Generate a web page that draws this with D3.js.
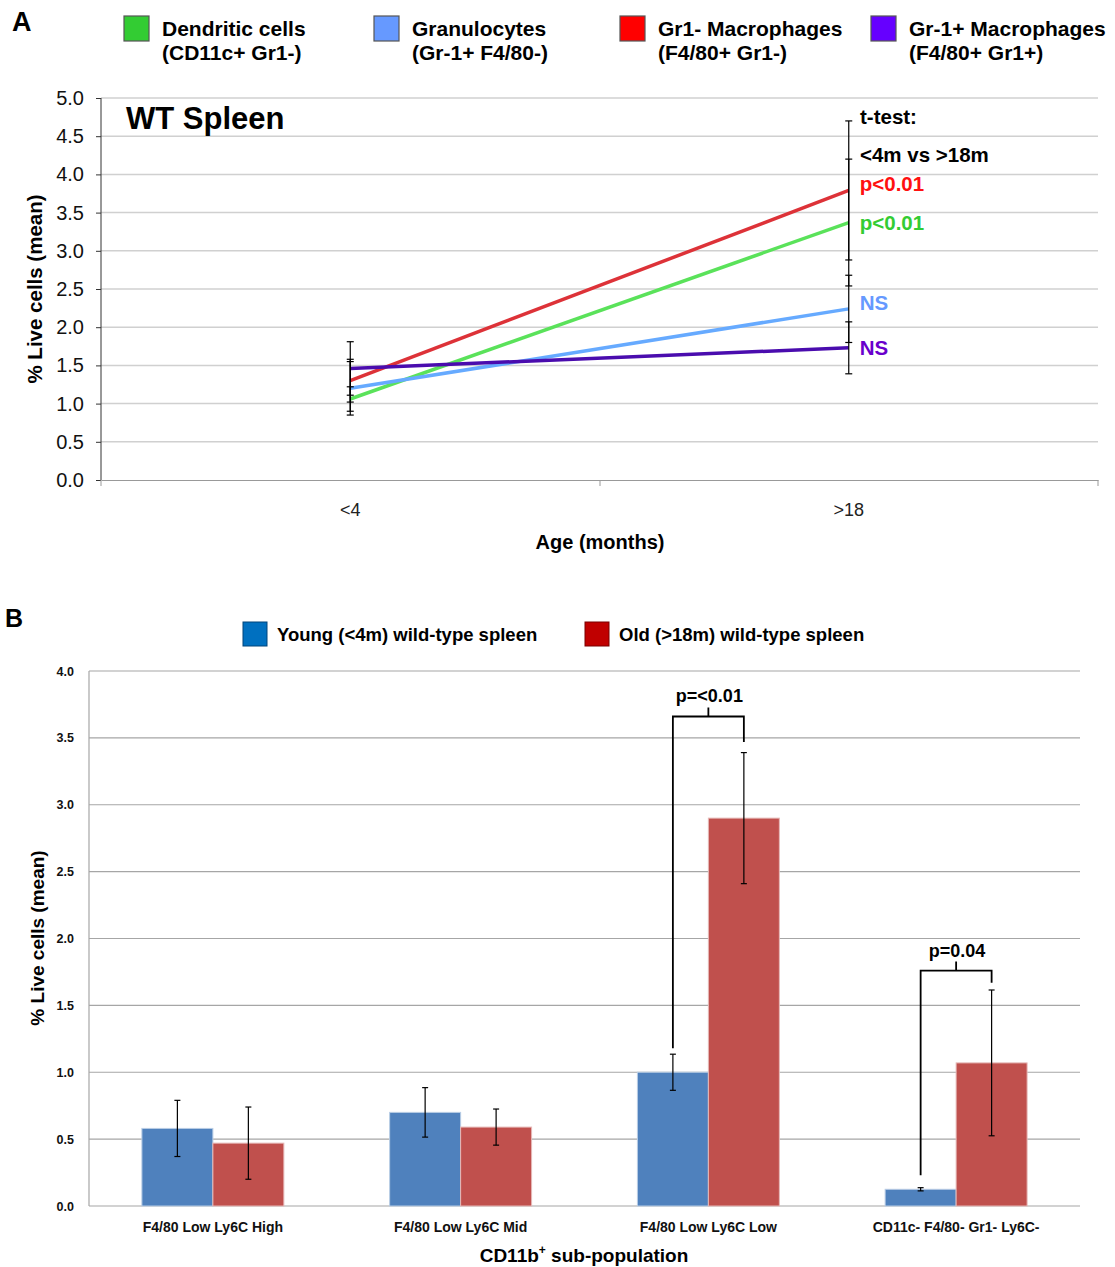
<!DOCTYPE html>
<html><head><meta charset="utf-8">
<script src="https://cdn.jsdelivr.net/npm/d3@7"></script>
<style>body{margin:0;background:#fff} text{font-family:"Liberation Sans",Arial,sans-serif}</style>
</head><body><svg id="c" width="1115" height="1267"></svg>
<script>
// ---------- Panel A data ----------
const ageCategories = ["<4", ">18"];
const seriesNames = ["Dendritic cells", "Granulocytes", "Gr1- Macrophages", "Gr-1+ Macrophages"];
const seriesSubNames = ["(CD11c+ Gr1-)", "(Gr-1+ F4/80-)", "(F4/80+ Gr1-)", "(F4/80+ Gr1+)"];
const dcMean = [1.06, 3.37];
const dcErr = [0.16, 0.83];
const granMean = [1.20, 2.24];
const granErr = [0.35, 0.44];
const macNegMean = [1.30, 3.79];
const macNegErr = [0.28, 0.91];
const macPosMean = [1.46, 1.73];
const macPosErr = [0.35, 0.34];
const pValueLabels = ["p<0.01", "NS", "p<0.01", "NS"];
const yTicksA = [0, 0.5, 1, 1.5, 2, 2.5, 3, 3.5, 4, 4.5, 5];

// ---------- Panel B data ----------
const subPopulations = ["F4/80 Low Ly6C High", "F4/80 Low Ly6C Mid", "F4/80 Low Ly6C Low", "CD11c- F4/80- Gr1- Ly6C-"];
const groupNames = ["Young (<4m) wild-type spleen", "Old (>18m) wild-type spleen"];
const youngMean = [0.58, 0.70, 1.00, 0.125];
const youngErr = [0.21, 0.185, 0.135, 0.012];
const oldMean = [0.47, 0.59, 2.90, 1.07];
const oldErr = [0.27, 0.135, 0.49, 0.545];
const yTicksB = [0, 0.5, 1, 1.5, 2, 2.5, 3, 3.5, 4];
const sigCategoryIndex = [2, 3];
const sigLabels = ["p=<0.01", "p=0.04"];
const bracketLeftBottom = [1.18, 0.23];
const bracketTop = [3.66, 1.76];
const bracketRightBottom = [3.47, 1.67];

const svg = d3.select("#c");
const FONT = '"Liberation Sans",Arial,sans-serif';

// =================== PANEL A ===================
const seriesA = [
  {name: seriesNames[0], sub: seriesSubNames[0], mean: dcMean, err: dcErr, line: "#5ae25a", sw: "#33cc33", txt: "#33cc33", p: pValueLabels[0], dy: 0},
  {name: seriesNames[1], sub: seriesSubNames[1], mean: granMean, err: granErr, line: "#66aaff", sw: "#6699ff", txt: "#6699ff", p: pValueLabels[1], dy: -6},
  {name: seriesNames[2], sub: seriesSubNames[2], mean: macNegMean, err: macNegErr, line: "#dd3238", sw: "#ff0000", txt: "#ff1010", p: pValueLabels[2], dy: -6},
  {name: seriesNames[3], sub: seriesSubNames[3], mean: macPosMean, err: macPosErr, line: "#4a0cae", sw: "#6600ff", txt: "#6a00cc", p: pValueLabels[3], dy: 0}
];

const xA = d3.scaleBand().domain(ageCategories).range([101, 1098]);
const yA = d3.scaleLinear().domain([0, 5]).range([480, 98]);
const gA = svg.append("g");

// gridlines
gA.append("g").selectAll("line").data(yTicksA.slice(1)).join("line")
  .attr("x1", 101).attr("x2", 1098)
  .attr("y1", d => yA(d)).attr("y2", d => yA(d))
  .attr("stroke", "#d0d0d0").attr("stroke-width", 1.5);

// y axis
const yAxisA = gA.append("g").attr("transform", "translate(101,0)")
  .call(d3.axisLeft(yA).tickValues(yTicksA).tickFormat(d3.format(".1f")).tickSize(5).tickPadding(12));
yAxisA.select(".domain").attr("stroke", "#333").attr("d", "M0,480V98");
yAxisA.selectAll(".tick line").attr("stroke", "#333");
yAxisA.selectAll("text").attr("font-family", FONT).attr("font-size", 20).attr("fill", "#111");

// x axis
const xAxisA = gA.append("g").attr("transform", "translate(0,480)")
  .call(d3.axisBottom(xA).tickSize(0).tickPadding(23));
xAxisA.select(".domain").attr("stroke", "#999");
xAxisA.selectAll("text").attr("font-family", FONT).attr("font-size", 18).attr("fill", "#222");
gA.append("g").selectAll("line").data([101, 600, 1098]).join("line")
  .attr("x1", d => d).attr("x2", d => d).attr("y1", 480).attr("y2", 486)
  .attr("stroke", "#999");

// lines
const lineA = d3.line().x((d, i) => xA(ageCategories[i]) + xA.bandwidth() / 2).y(d => yA(d));
seriesA.forEach(s => {
  gA.append("path").datum(s.mean).attr("d", lineA)
    .attr("fill", "none").attr("stroke", s.line).attr("stroke-width", 3.5);
});
// error bars
seriesA.forEach(s => {
  s.mean.forEach((m, i) => {
    const cx = xA(ageCategories[i]) + xA.bandwidth() / 2;
    const lo = yA(m - s.err[i]), hi = yA(m + s.err[i]);
    gA.append("line").attr("x1", cx).attr("x2", cx).attr("y1", lo).attr("y2", hi).attr("stroke", "#000").attr("stroke-width", 1.2);
    [lo, hi].forEach(yy => gA.append("line").attr("x1", cx - 3.5).attr("x2", cx + 3.5).attr("y1", yy).attr("y2", yy).attr("stroke", "#000").attr("stroke-width", 1.2));
  });
});
// p-value labels
seriesA.forEach(s => {
  const last = s.mean.length - 1;
  gA.append("text").attr("x", xA(ageCategories[last]) + xA.bandwidth() / 2 + 11)
    .attr("y", yA(s.mean[last]) + s.dy + 7)
    .attr("font-size", 20.5).attr("font-weight", "bold").attr("fill", s.txt).text(s.p);
});
gA.append("text").attr("x", 860).attr("y", 124).attr("font-size", 20.5).attr("font-weight", "bold").text("t-test:");
gA.append("text").attr("x", 860).attr("y", 162).attr("font-size", 20.5).attr("font-weight", "bold").text("<4m vs >18m");

// title in plot
gA.append("text").attr("x", 126).attr("y", 129).attr("font-size", 31).attr("font-weight", "bold").text("WT Spleen");

// axis titles
gA.append("text").attr("transform", "translate(42,289) rotate(-90)").attr("text-anchor", "middle")
  .attr("font-size", 20.5).attr("font-weight", "bold").text("% Live cells (mean)");
gA.append("text").attr("x", 600).attr("y", 549).attr("text-anchor", "middle")
  .attr("font-size", 20).attr("font-weight", "bold").text("Age (months)");

// legend A
const legX = [124, 374, 620, 871];
seriesA.forEach((s, i) => {
  const g = gA.append("g").attr("transform", `translate(${legX[i]},16)`);
  g.append("rect").attr("width", 25).attr("height", 25).attr("fill", s.sw).attr("stroke", "#555").attr("stroke-width", 1.2);
  g.append("text").attr("x", 38).attr("y", 20).attr("font-size", 21).attr("font-weight", "bold").text(s.name);
  g.append("text").attr("x", 38).attr("y", 44).attr("font-size", 21).attr("font-weight", "bold").text(s.sub);
});
svg.append("text").attr("x", 12).attr("y", 31).attr("font-size", 27).attr("font-weight", "bold").text("A");

// =================== PANEL B ===================
const gB = svg.append("g");
const xB = d3.scaleBand().domain(subPopulations).range([89, 1080]).paddingInner(0.427).paddingOuter(0.2135);
const xSub = d3.scaleBand().domain(["young", "old"]).range([0, xB.bandwidth()]);
const yB = d3.scaleLinear().domain([0, 4]).range([1206, 671]);

gB.append("g").selectAll("line").data(yTicksB).join("line")
  .attr("x1", 89).attr("x2", 1080)
  .attr("y1", d => yB(d)).attr("y2", d => yB(d))
  .attr("stroke", "#a6a6a6").attr("stroke-width", 1.2);
gB.append("line").attr("x1", 89).attr("x2", 89).attr("y1", 671).attr("y2", 1206).attr("stroke", "#a6a6a6").attr("stroke-width", 1.2);

const yAxisB = gB.append("g").attr("transform", "translate(89,0)")
  .call(d3.axisLeft(yB).tickValues(yTicksB).tickFormat(d3.format(".1f")).tickSize(0).tickPadding(15));
yAxisB.select(".domain").remove();
yAxisB.selectAll("text").attr("font-family", FONT).attr("font-size", 12.5).attr("font-weight", "bold").attr("fill", "#111");

const xAxisB = gB.append("g").attr("transform", "translate(0,1206)")
  .call(d3.axisBottom(xB).tickSize(0).tickPadding(16));
xAxisB.select(".domain").remove();
xAxisB.selectAll("text").attr("font-family", FONT).attr("font-size", 14).attr("font-weight", "bold").attr("fill", "#111");

const barData = subPopulations.map((c, i) => [
  {c, k: "young", v: youngMean[i], e: youngErr[i]},
  {c, k: "old", v: oldMean[i], e: oldErr[i]}
]).flat();
const barFill = {young: "#4f81bd", old: "#c0504d"};
const barStroke = {young: "#b9cde5", old: "#e6b9b8"};

gB.append("g").selectAll("rect").data(barData).join("rect")
  .attr("x", d => xB(d.c) + xSub(d.k))
  .attr("y", d => yB(d.v))
  .attr("width", xSub.bandwidth())
  .attr("height", d => yB(0) - yB(d.v))
  .attr("fill", d => barFill[d.k]).attr("stroke", d => barStroke[d.k]).attr("stroke-width", 1);

barData.forEach(d => {
  const cx = xB(d.c) + xSub(d.k) + xSub.bandwidth() / 2;
  const lo = yB(d.v - d.e), hi = yB(d.v + d.e);
  gB.append("line").attr("x1", cx).attr("x2", cx).attr("y1", lo).attr("y2", hi).attr("stroke", "#000").attr("stroke-width", 1.2);
  [lo, hi].forEach(yy => gB.append("line").attr("x1", cx - 3).attr("x2", cx + 3).attr("y1", yy).attr("y2", yy).attr("stroke", "#000").attr("stroke-width", 1.2));
});

// significance brackets
sigCategoryIndex.forEach((ci, j) => {
  const c = subPopulations[ci];
  const xl = xB(c) + xSub("young") + xSub.bandwidth() / 2;
  const xr = xB(c) + xSub("old") + xSub.bandwidth() / 2;
  const xm = xB(c) + xB.bandwidth() / 2;
  const yt = yB(bracketTop[j]);
  gB.append("path")
    .attr("d", `M${xl},${yB(bracketLeftBottom[j])}V${yt}H${xr}V${yB(bracketRightBottom[j])}M${xm},${yt}V${yt - 9}`)
    .attr("fill", "none").attr("stroke", "#000").attr("stroke-width", 1.8);
  gB.append("text").attr("x", xm + 1).attr("y", yt - 14).attr("text-anchor", "middle")
    .attr("font-size", 18).attr("font-weight", "bold").text(sigLabels[j]);
});

// axis titles B
gB.append("text").attr("transform", "translate(44,938) rotate(-90)").attr("text-anchor", "middle")
  .attr("font-size", 19).attr("font-weight", "bold").text("% Live cells (mean)");
const xt = gB.append("text").attr("x", 584).attr("y", 1262).attr("text-anchor", "middle")
  .attr("font-size", 19).attr("font-weight", "bold");
xt.append("tspan").text("CD11b");
xt.append("tspan").attr("font-size", 12).attr("dy", -8).text("+");
xt.append("tspan").attr("dy", 8).text(" sub-population");

// legend B
const legBX = [243, 585];
const legBFill = ["#0070c0", "#c00000"];
const legBStroke = ["#00457a", "#7a0000"];
groupNames.forEach((n, i) => {
  const g = gB.append("g").attr("transform", `translate(${legBX[i]},622)`);
  g.append("rect").attr("width", 24).attr("height", 24).attr("fill", legBFill[i]).attr("stroke", legBStroke[i]).attr("stroke-width", 1);
  g.append("text").attr("x", 34).attr("y", 18.5).attr("font-size", 18.5).attr("font-weight", "bold").text(n);
});
svg.append("text").attr("x", 5).attr("y", 627).attr("font-size", 25).attr("font-weight", "bold").text("B");
</script></body></html>
